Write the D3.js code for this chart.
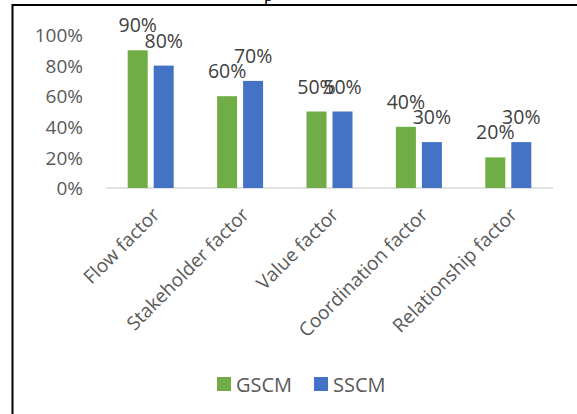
<!DOCTYPE html>
<html>
<head>
<meta charset="utf-8">
<script src="https://cdn.jsdelivr.net/npm/d3@7"></script>
<style>
  html, body { margin: 0; padding: 0; background: #fff; }
  svg { display: block; }
</style>
</head>
<body>
<svg id="chart" width="577" height="414"></svg>
<script>
// Factor categories and the share for each approach
const categories = ["Flow factor", "Stakeholder factor", "Value factor", "Coordination factor", "Relationship factor"];
const seriesNames = ["GSCM", "SSCM"];
const gscmValues = [0.9, 0.6, 0.5, 0.4, 0.2];
const sscmValues = [0.8, 0.7, 0.5, 0.3, 0.3];
const yTicks = [0, 0.2, 0.4, 0.6, 0.8, 1.0];
const seriesColors = ["#70AD47", "#4472C4"];

const seriesValues = [gscmValues, sscmValues];
const rows = categories.map((c, i) => ({
  category: c,
  values: seriesNames.map((s, j) => ({ series: s, value: seriesValues[j][i], color: seriesColors[j] }))
}));

const svg = d3.select("#chart");
const font = "'Open Sans', 'Noto Sans', sans-serif";
const pct = d3.format(".0%");

// Frame lines (top and left)
svg.append("path")
  .attr("d", "M12.5,414 L12.5,5 L577,5")
  .attr("fill", "none")
  .attr("stroke", "#000")
  .attr("stroke-width", 2);

// Descender of the caption line above the frame
svg.append("text")
  .attr("x", 264).attr("y", 0.5)
  .attr("font-family", "'Liberation Serif', serif")
  .attr("font-size", 18)
  .attr("fill", "#000")
  .text("p");

const x0 = d3.scaleBand().domain(categories).range([106, 553]).paddingInner(0).paddingOuter(0);
const groupWidth = 46;
const x1 = d3.scaleBand().domain(seriesNames).range([0, groupWidth]).paddingInner(0.23).paddingOuter(0);
const y = d3.scaleLinear().domain([0, 1]).range([188, 35]);

// Y axis tick labels (no axis line)
const yAxis = d3.axisLeft(y).tickValues(yTicks).tickFormat(pct).tickSize(0).tickPadding(0);
const yg = svg.append("g").attr("transform", "translate(83,0)").call(yAxis);
yg.select(".domain").remove();
yg.selectAll("text")
  .attr("font-family", font)
  .attr("font-size", 19)
  .attr("fill", "#595959")
  .attr("x", 0)
  .attr("dy", "0.35em");

// Category baseline
svg.append("line")
  .attr("x1", x0.range()[0]).attr("x2", x0.range()[1])
  .attr("y1", y(0)).attr("y2", y(0))
  .attr("stroke", "#D9D9D9")
  .attr("stroke-width", 1.5);

// Bars
const groups = svg.append("g").selectAll("g")
  .data(rows).join("g")
  .attr("transform", d => `translate(${x0(d.category) + (x0.bandwidth() - groupWidth) / 2},0)`);

groups.selectAll("rect")
  .data(d => d.values).join("rect")
  .attr("x", d => x1(d.series))
  .attr("y", d => y(d.value))
  .attr("width", x1.bandwidth())
  .attr("height", d => y(0) - y(d.value))
  .attr("fill", d => d.color);

// Value labels
groups.selectAll("text")
  .data(d => d.values).join("text")
  .attr("x", d => x1(d.series) + x1.bandwidth() / 2)
  .attr("y", d => y(d.value) - 18)
  .attr("text-anchor", "middle")
  .attr("font-family", font)
  .attr("font-size", 19.5)
  .attr("fill", "#404040")
  .text(d => pct(d.value));

// Rotated category labels
const xAxis = d3.axisBottom(x0).tickSize(0).tickPadding(0);
const xg = svg.append("g").attr("transform", `translate(0,${y(0)})`).call(xAxis);
xg.select(".domain").remove();
xg.selectAll(".tick text")
  .attr("font-family", font)
  .attr("font-size", 19)
  .attr("fill", "#595959")
  .attr("text-anchor", "end")
  .attr("x", 0).attr("y", 0).attr("dy", 0)
  .attr("transform", "translate(10,28) rotate(-45)");

// Legend
const legend = svg.append("g").attr("transform", "translate(217,377)");
const legendX = d3.scaleOrdinal().domain(seriesNames).range([0, 97]);
const items = legend.selectAll("g").data(seriesNames).join("g")
  .attr("transform", d => `translate(${legendX(d)},0)`);
items.append("rect")
  .attr("width", 14).attr("height", 14)
  .attr("fill", (d, i) => seriesColors[i]);
items.append("text")
  .attr("x", 19).attr("y", 15)
  .attr("font-family", font)
  .attr("font-size", 20)
  .attr("fill", "#595959")
  .text(d => d);
</script>
</body>
</html>
